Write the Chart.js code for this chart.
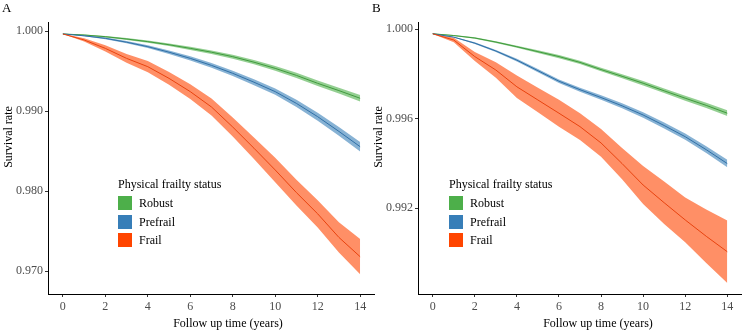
<!DOCTYPE html>
<html>
<head>
<meta charset="utf-8">
<script src="https://cdn.jsdelivr.net/npm/chart.js@4.4.0/dist/chart.umd.min.js"></script>
<style>
  body { margin: 0; background: #fff; font-family: "Liberation Serif", "Times New Roman", serif; color: #000; }
  #wrap { position: relative; width: 742px; height: 331px; overflow: hidden; }
  canvas { position: absolute; top: 0; }
  .tag { position: absolute; top: 1px; font-size: 13px; line-height: 14px; }
  .ytitle { position: absolute; width: 100px; text-align: center; font-size: 12px; line-height: 14px;
            transform: rotate(-90deg); white-space: nowrap; }
  .xtitle { position: absolute; width: 200px; text-align: center; font-size: 12px; line-height: 14px; white-space: nowrap; }
  .legend { position: absolute; font-size: 12px; }
  .legend .ttl { height: 14px; line-height: 14px; margin-bottom: 5px; }
  .legend .row { height: 18.5px; display: flex; align-items: flex-start; }
  .legend .key { width: 14px; height: 14px; margin-right: 7px; }
  .legend .lab { line-height: 14px; }
</style>
</head>
<body>
<div id="wrap">
  <canvas id="chartA" width="375" height="331" style="left:0"></canvas>
  <canvas id="chartB" width="372" height="331" style="left:370px"></canvas>
</div>
<script>
// follow up time (years) where values were read
const years = [0, 1, 2, 3, 4, 5, 6, 7, 8, 9, 10, 11, 12, 13, 14];
const xTicks = [0, 2, 4, 6, 8, 10, 12, 14];
const groups = ["Robust", "Prefrail", "Frail"];
const panels = ["A", "B"];
const yTicksA = [0.970, 0.980, 0.990, 1.000];
const yTicksB = [0.992, 0.996, 1.000];

// Panel A
const aRobust   = [0.99963, 0.99950, 0.99929, 0.99900, 0.99867, 0.99828, 0.99783, 0.99735, 0.99679, 0.99610, 0.99533, 0.99445, 0.99346, 0.99255, 0.99159];
const aRobustLo = [0.99961, 0.99944, 0.99919, 0.99888, 0.99852, 0.99811, 0.99763, 0.99713, 0.99654, 0.99583, 0.99503, 0.99413, 0.99311, 0.99218, 0.99119];
const aRobustHi = [0.99965, 0.99956, 0.99939, 0.99912, 0.99882, 0.99845, 0.99803, 0.99757, 0.99704, 0.99637, 0.99563, 0.99477, 0.99381, 0.99292, 0.99199];
const aPre      = [0.99963, 0.99940, 0.99908, 0.99860, 0.99804, 0.99735, 0.99658, 0.99570, 0.99471, 0.99360, 0.99242, 0.99095, 0.98929, 0.98745, 0.98554];
const aPreLo    = [0.99961, 0.99934, 0.99898, 0.99846, 0.99786, 0.99713, 0.99632, 0.99540, 0.99438, 0.99323, 0.99202, 0.99050, 0.98879, 0.98690, 0.98494];
const aPreHi    = [0.99965, 0.99946, 0.99918, 0.99874, 0.99822, 0.99757, 0.99684, 0.99600, 0.99504, 0.99397, 0.99282, 0.99140, 0.98979, 0.98800, 0.98614];
const aFrail    = [0.99963, 0.99888, 0.99783, 0.99658, 0.99554, 0.99408, 0.99242, 0.99050, 0.98800, 0.98535, 0.98263, 0.97980, 0.97715, 0.97420, 0.97179];
const aFrailLo  = [0.99961, 0.99868, 0.99743, 0.99603, 0.99484, 0.99328, 0.99150, 0.98945, 0.98680, 0.98400, 0.98110, 0.97820, 0.97545, 0.97230, 0.96959];
const aFrailHi  = [0.99965, 0.99908, 0.99823, 0.99713, 0.99624, 0.99488, 0.99334, 0.99155, 0.98920, 0.98670, 0.98416, 0.98140, 0.97885, 0.97610, 0.97399];

// Panel B
const bRobust   = [0.99980, 0.99972, 0.99961, 0.99943, 0.99922, 0.99900, 0.99878, 0.99852, 0.99820, 0.99790, 0.99759, 0.99725, 0.99692, 0.99660, 0.99625];
const bRobustLo = [0.99979, 0.99970, 0.99958, 0.99939, 0.99917, 0.99894, 0.99871, 0.99845, 0.99812, 0.99781, 0.99749, 0.99715, 0.99681, 0.99648, 0.99612];
const bRobustHi = [0.99981, 0.99974, 0.99964, 0.99947, 0.99927, 0.99906, 0.99885, 0.99859, 0.99828, 0.99799, 0.99769, 0.99735, 0.99703, 0.99672, 0.99638];
const bPre      = [0.99980, 0.99965, 0.99938, 0.99903, 0.99862, 0.99815, 0.99768, 0.99730, 0.99695, 0.99658, 0.99617, 0.99570, 0.99520, 0.99462, 0.99400];
const bPreLo    = [0.99979, 0.99963, 0.99934, 0.99898, 0.99856, 0.99808, 0.99760, 0.99721, 0.99685, 0.99647, 0.99605, 0.99557, 0.99506, 0.99447, 0.99383];
const bPreHi    = [0.99981, 0.99967, 0.99942, 0.99908, 0.99868, 0.99822, 0.99776, 0.99739, 0.99705, 0.99669, 0.99629, 0.99583, 0.99534, 0.99477, 0.99417];
const bFrail    = [0.99980, 0.99952, 0.99878, 0.99818, 0.99743, 0.99684, 0.99625, 0.99565, 0.99492, 0.99400, 0.99304, 0.99225, 0.99148, 0.99075, 0.99006];
const bFrailLo  = [0.99979, 0.99942, 0.99858, 0.99783, 0.99693, 0.99629, 0.99565, 0.99505, 0.99430, 0.99330, 0.99219, 0.99130, 0.99048, 0.98955, 0.98866];
const bFrailHi  = [0.99981, 0.99962, 0.99898, 0.99853, 0.99793, 0.99739, 0.99685, 0.99625, 0.99554, 0.99470, 0.99389, 0.99320, 0.99248, 0.99195, 0.99146];

// Colors
const keyColors  = ["#4daf4a", "#377eb8", "#ff4500"];
const bandColors = ["rgba(77,175,74,0.6)", "rgba(55,126,184,0.6)", "rgba(255,69,0,0.6)"];
const lineColors = ["#3f9a3c", "#2f6fa6", "#e8420e"];

const FONT = { family: "'Liberation Serif', 'Times New Roman', serif", size: 12 };

const pts = arr => years.map((t, i) => ({ x: t, y: arr[i] }));

function makePanel(id, yMin, yMax, yTicks, est, lo, hi) {
  const datasets = [];
  // ribbons: robust drawn first, frail on top
  groups.forEach((g, k) => {
    const loIdx = datasets.length;
    datasets.push({ data: pts(lo[k]), borderWidth: 0, pointRadius: 0, fill: false, order: 6 - k });
    datasets.push({ data: pts(hi[k]), borderWidth: 0, pointRadius: 0, order: 6 - k,
      fill: { target: loIdx }, backgroundColor: bandColors[k] });
  });
  // lines on top
  groups.forEach((g, k) => {
    datasets.push({ label: g, data: pts(est[k]), borderColor: lineColors[k], borderWidth: 1,
      pointRadius: 0, fill: false, order: 3 - k });
  });

  new Chart(document.getElementById(id), {
    type: "line",
    data: { datasets },
    options: {
      responsive: false,
      animation: false,
      layout: { padding: { top: 22, right: 0, left: 0, bottom: 0 } },
      plugins: { legend: { display: false }, tooltip: { enabled: false } },
      elements: { line: { tension: 0 } },
      scales: {
        x: {
          type: "linear", min: -0.7, max: 14.7,
          afterBuildTicks: s => { s.ticks = xTicks.map(v => ({ value: v })); },
          afterFit: s => { s.height = 37; },
          ticks: { font: FONT, color: "#4d4d4d", padding: 3, maxRotation: 0, autoSkip: false },
          grid: { drawOnChartArea: false, tickLength: 3, color: "#333" },
          border: { color: "#000", width: 1 }
        },
        y: {
          type: "linear", min: yMin, max: yMax,
          afterBuildTicks: s => { s.ticks = yTicks.map(v => ({ value: v })); },
          afterFit: s => { s.width = 48; },
          ticks: { font: FONT, color: "#4d4d4d", padding: 2, callback: v => v.toFixed(3) },
          grid: { drawOnChartArea: false, tickLength: 3, color: "#333" },
          border: { color: "#000", width: 1 }
        }
      }
    }
  });
}

makePanel("chartA", 0.967125, 1.001125, yTicksA,
  [aRobust, aPre, aFrail], [aRobustLo, aPreLo, aFrailLo], [aRobustHi, aPreHi, aFrailHi]);
makePanel("chartB", 0.98817, 1.000326, yTicksB,
  [bRobust, bPre, bFrail], [bRobustLo, bPreLo, bFrailLo], [bRobustHi, bPreHi, bFrailHi]);

// panel tags, axis titles, legends as HTML text
const wrap = document.getElementById("wrap");
const offsets = [0, 370];
panels.forEach((p, i) => {
  const ox = offsets[i];
  const tag = document.createElement("div");
  tag.className = "tag"; tag.style.left = (ox + 2) + "px"; tag.textContent = p;
  wrap.appendChild(tag);

  const yt = document.createElement("div");
  yt.className = "ytitle"; yt.style.left = (ox + 8 - 50) + "px"; yt.style.top = (137 - 7) + "px";
  yt.textContent = "Survival rate";
  wrap.appendChild(yt);

  const xt = document.createElement("div");
  xt.className = "xtitle"; xt.style.left = (ox + 228 - 100) + "px"; xt.style.top = (323 - 7) + "px";
  xt.textContent = "Follow up time (years)";
  wrap.appendChild(xt);

  const lg = document.createElement("div");
  lg.className = "legend"; lg.style.left = (ox + (i === 0 ? 118 : 79)) + "px"; lg.style.top = "177px";
  let html = '<div class="ttl">Physical frailty status</div>';
  groups.forEach((g, k) => {
    html += '<div class="row"><div class="key" style="background:' + keyColors[k] + '"></div><div class="lab">' + g + '</div></div>';
  });
  lg.innerHTML = html;
  wrap.appendChild(lg);
});
</script>
</body>
</html>
